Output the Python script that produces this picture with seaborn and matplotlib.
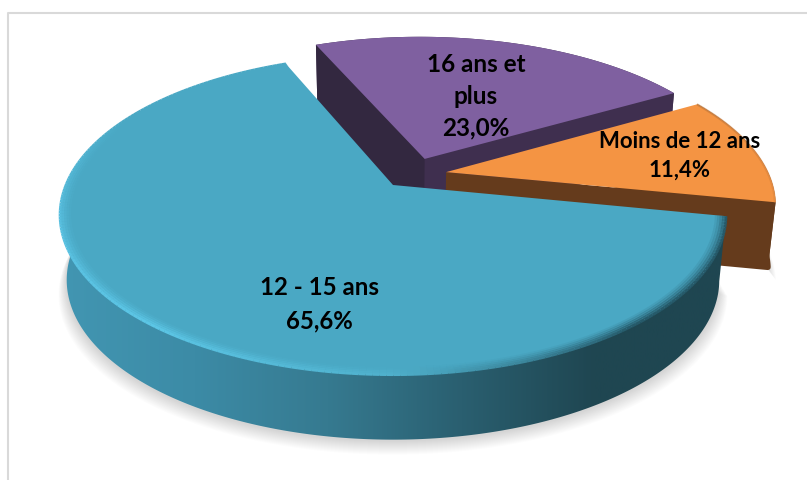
import numpy as np
import seaborn as sns
import matplotlib
matplotlib.use('Agg')
import matplotlib.pyplot as plt
from matplotlib.collections import LineCollection
from matplotlib.patches import Polygon

# Data
categories = ['12 - 15 ans', 'Moins de 12 ans', '16 ans et\nplus']
shares = [65.6, 11.4, 23.0]

# Styles
top_colors = ['#4aa8c4', '#f49443', '#7f60a0']
cut_colors = [None, '#653b1c', '#3f2f4f']
back_cut_colors = [None, None, '#332840']
offsets = [(0.0, 0.0), (0.165, 0.085), (0.10, 0.175)]
label_xy = [(319, 304), (680, 156), (476, 96)]
label_sizes = [17.3, 15.9, 17.5]
label_spacing = [1.55, 1.47, 1.45]

start_angle = 112.6
cx, cy = 393, 185
a, b, k = 327, 154, 0.188
depth = 65

sns.set_theme(style='white')
plt.rcParams['font.family'] = ['Lato', 'DejaVu Sans']


def project(u, v, drop=0.0):
    # circle of the pie -> screen, with perspective
    w = 1 + k * np.asarray(v)
    scale = 1 - 0.02 * drop
    return cx + a * np.asarray(u) / w * scale, cy - b * np.asarray(v) / w + drop * depth


def arc(t1, t2, off, r=1.0, n=200):
    t = np.radians(np.linspace(t1, t2, n))
    return r * np.cos(t) + off[0], r * np.sin(t) + off[1]


def pts(u, v, drop=0.0):
    x, y = project(u, v, drop)
    return np.column_stack([x, y])


def shadow(ax, t1, t2, off, spread):
    u, v = arc(t1, t2, off)
    for i in range(spread, 0, -1):
        x, y = project(u, v, 1.0)
        xy = np.column_stack([cx + (x - cx) * (1 + 0.0018 * i), y + 1.0 * i + 1])
        ax.add_patch(Polygon(xy, fc='#000000', ec='none', alpha=0.012, zorder=1))


def bevel(ax, t1, t2, off, colors, widths, zorder):
    pal = sns.blend_palette(colors, n_colors=240)
    for r, lw, alpha in widths:
        u, v = arc(t1, t2, off, r=r, n=241)
        xy = pts(u, v)
        segs = np.stack([xy[:-1], xy[1:]], axis=1)
        ax.add_collection(LineCollection(segs, colors=pal, linewidths=lw, alpha=alpha,
                                         capstyle='butt', zorder=zorder))


fig, ax = plt.subplots(figsize=(8.07, 4.8), dpi=100)
fig.subplots_adjust(0, 0, 1, 1)
ax.set_xlim(0, 807)
ax.set_ylim(480, 0)
ax.axis('off')

# chart frame
ax.plot([8, 8, 807], [480, 12.5, 12.5], color='#d9d9d9', lw=1.5, zorder=0)

edges = start_angle + np.cumsum([0] + shares) * 3.6
spans = list(zip(edges[:-1], edges[1:]))

shadow(ax, spans[0][0], spans[0][1], offsets[0], 14)
shadow(ax, spans[1][0], spans[1][1], offsets[1], 12)

# back wedges first, the big one goes in front
for i in [2, 1]:
    t1, t2 = spans[i]
    off = offsets[i]
    u, v = arc(t1, t2, off)
    top = pts(u, v)
    low = pts(u, v, 1.0)
    apex_top = pts([off[0]], [off[1]])
    apex_low = pts([off[0]], [off[1]], 1.0)
    z = 3 if i == 2 else 5
    # outer rim, lower face gets a round stroke for the soft corners
    ax.add_patch(Polygon(np.vstack([top, low[::-1]]), fc=cut_colors[i], ec='none', zorder=z))
    ax.add_patch(Polygon(np.vstack([apex_low, low]), fc=cut_colors[i], ec=cut_colors[i],
                         lw=4, joinstyle='round', zorder=z))
    # cut faces
    ax.add_patch(Polygon(np.vstack([apex_top, top[0], low[0], apex_low]), fc=cut_colors[i],
                         ec='none', zorder=z))
    if back_cut_colors[i]:
        ax.add_patch(Polygon(np.vstack([apex_top, top[-1], low[-1], apex_low]),
                             fc=back_cut_colors[i], ec='none', zorder=z))
    ax.add_patch(Polygon(np.vstack([apex_top, top]), fc=top_colors[i], ec='none', zorder=z + 1))

bevel(ax, spans[1][0], spans[1][1], offsets[1], ['#e08a40', '#d08040', '#b8763e'],
      [(0.998, 1.5, 0.7)], 7)

# big wedge, side with the horizontal gradient
t1, t2 = spans[0]
u, v = arc(t1, t2, offsets[0], n=400)
top = pts(u, v)
low = pts(u, v, 1.0)
rim = Polygon(np.vstack([top, low[::-1]]), fc='none', ec='none', zorder=8)
ax.add_patch(rim)
side_cmap = sns.blend_palette(['#4296b2', '#3c8ba6', '#367a90', '#2a5f70', '#1f4651', '#1f4651'],
                              n_colors=256, as_cmap=True)
grad = np.linspace(0, 1, 256).reshape(1, -1)
im = ax.imshow(grad, extent=(60, 730, 480, 0), cmap=side_cmap, aspect='auto', zorder=8)
im.set_clip_path(rim)
ax.set_xlim(0, 807)
ax.set_ylim(480, 0)

ax.add_patch(Polygon(np.vstack([pts([0.0], [0.0]), top]), fc=top_colors[0], ec='none', zorder=9))

# rounded edge of the disc
bevel(ax, t1, t2, offsets[0],
      ['#4aa8c4', '#4aa8c4', '#58bfdf', '#5cc6e6', '#4fb0cc', '#265a6a', '#265a6a'],
      [(1.0, 2, 1.0), (0.993, 2, 0.7), (0.986, 2, 0.45), (0.979, 2, 0.25), (0.972, 2, 0.12)], 10)

for name, share, (x, y), size, sp in zip(categories, shares, label_xy, label_sizes, label_spacing):
    pct = f'{share:.1f}'.replace('.', ',') + '%'
    ax.text(x, y, f'{name}\n{pct}', ha='center', va='center', fontsize=size,
            fontweight='bold', color='black', linespacing=sp, zorder=12)

fig.savefig('out.png', dpi=100)
